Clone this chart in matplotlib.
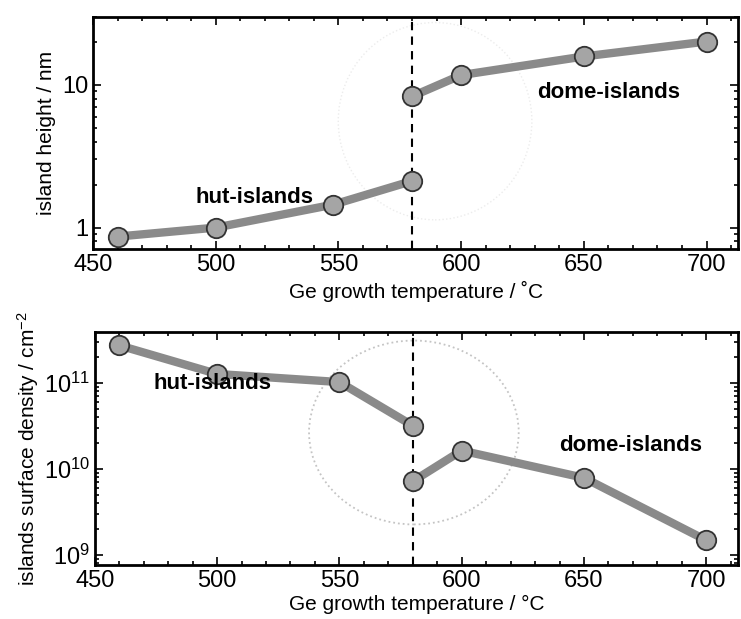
import numpy as np
import matplotlib.pyplot as plt
from matplotlib.patches import Ellipse
from matplotlib.ticker import FixedLocator, FixedFormatter, LogLocator, MultipleLocator, NullFormatter

plt.rcParams['font.family'] = ['Liberation Sans', 'DejaVu Sans']
plt.rcParams['mathtext.fontset'] = 'custom'
plt.rcParams['mathtext.rm'] = 'Liberation Sans'
plt.rcParams['mathtext.it'] = 'Liberation Sans:italic'

# island height (nm)
hut_temp = [460, 500, 548, 580]
hut_height = [0.865, 1.0, 1.45, 2.12]
dome_temp = [580, 600, 650, 700]
dome_height = [8.3, 11.7, 15.8, 20.1]

# island surface density (cm^-2)
hut_temp2 = [460, 500, 550, 580]
hut_density = [2.75e11, 1.28e11, 1.03e11, 3.2e10]
dome_temp2 = [580, 600, 650, 700]
dome_density = [7.2e9, 1.64e10, 7.9e9, 1.48e9]

transition = 580

line_kw = dict(color='#8a8a8a', lw=6, solid_capstyle='round', zorder=3,
               marker='o', ms=14, mfc='#a5a5a5', mec='#333333', mew=1.3)

fig = plt.figure(figsize=(7.41, 6.19), dpi=100)
ax1 = fig.add_axes([0.1255, 0.598, 0.871, 0.375])
ax2 = fig.add_axes([0.128, 0.087, 0.868, 0.376])


def style_axis(ax):
    ax.set_xlim(450, 713)
    ax.xaxis.set_major_locator(MultipleLocator(50))
    ax.xaxis.set_minor_locator(MultipleLocator(10))
    ax.tick_params(which='both', direction='in', top=True, right=True,
                   labelsize=17, width=1.2)
    ax.tick_params(which='major', length=6)
    ax.tick_params(which='minor', length=3)
    for s in ax.spines.values():
        s.set_linewidth(2)


# top panel
ax1.plot(hut_temp, hut_height, **line_kw)
ax1.plot(dome_temp, dome_height, **line_kw)
ax1.axvline(transition, color='black', ls=(0, (4, 3)), lw=1.5, zorder=2)
ax1.add_patch(Ellipse((0.53, 0.55), 0.3, 0.85, transform=ax1.transAxes, fill=False,
                      ec='#ececec', ls=':', lw=1.0, zorder=1))
ax1.set_yscale('log')
ax1.set_ylim(0.71, 30)
ax1.yaxis.set_major_locator(FixedLocator([1, 10]))
ax1.yaxis.set_major_formatter(FixedFormatter(['1', '10']))
ax1.yaxis.set_minor_locator(LogLocator(base=10, subs=np.arange(2, 10)))
ax1.yaxis.set_minor_formatter(NullFormatter())
style_axis(ax1)
ax1.set_xlabel('Ge growth temperature / \u02daC', fontsize=15, labelpad=4)
ax1.set_ylabel('island height / nm', fontsize=15, labelpad=4)
ax1.text(516, 1.63, 'hut-islands', fontsize=16, fontweight='bold', ha='center', va='center')
ax1.text(660, 8.8, 'dome-islands', fontsize=16, fontweight='bold', ha='center', va='center')

# bottom panel
ax2.plot(hut_temp2, hut_density, **line_kw)
ax2.plot(dome_temp2, dome_density, **line_kw)
ax2.axvline(transition, color='black', ls=(0, (4, 3)), lw=1.5, zorder=2)
ax2.add_patch(Ellipse((0.496, 0.57), 0.326, 0.79, transform=ax2.transAxes, fill=False,
                      ec='#c4c4c4', ls=':', lw=1.3, zorder=1))
ax2.set_yscale('log')
ax2.set_ylim(7.6e8, 3.9e11)
ax2.yaxis.set_major_locator(FixedLocator([1e9, 1e10, 1e11]))
ax2.yaxis.set_major_formatter(FixedFormatter(['$10^9$', '$10^{10}$', '$10^{11}$']))
ax2.yaxis.set_minor_locator(LogLocator(base=10, subs=np.arange(2, 10)))
ax2.yaxis.set_minor_formatter(NullFormatter())
style_axis(ax2)
ax2.set_xlabel('Ge growth temperature / \u00b0C', fontsize=15, labelpad=2)
ax2.set_ylabel('islands surface density / cm$^{-2}$', fontsize=15, labelpad=2)
ax2.text(498, 9.8e10, 'hut-islands', fontsize=16, fontweight='bold', ha='center', va='center')
ax2.text(669, 1.86e10, 'dome-islands', fontsize=16, fontweight='bold', ha='center', va='center')

fig.savefig('out.png', dpi=100)
